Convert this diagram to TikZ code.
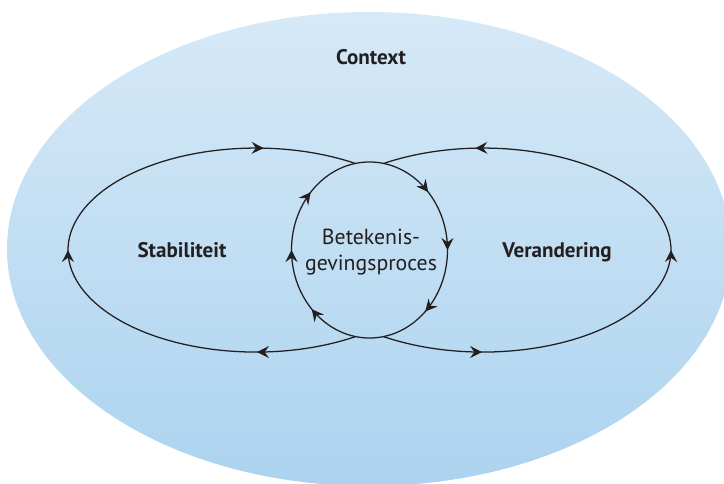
\documentclass[tikz,border=0pt]{standalone}
\usepackage{fontspec}
\setmainfont{PT Sans}
\usetikzlibrary{arrows.meta,decorations.markings,positioning}

\definecolor{ctxtop}{RGB}{214,233,247}
\definecolor{ctxbot}{RGB}{172,211,239}
\definecolor{ink}{RGB}{35,31,32}

\begin{document}
\begin{tikzpicture}[
  x=0.025cm, y=0.025cm,
  >={Stealth[length=8.5pt,width=8.5pt,inset=3pt]},
  loop/.style={draw=ink, line width=0.9pt},
  tip/.style={postaction={decorate, decoration={markings,
      mark=at position #1 with {\arrow[ink]{>}}}}},
  lbl/.style={font=\fontsize{15}{18}\selectfont\bfseries, text=ink, anchor=base},
  mid/.style={font=\fontsize{15.5}{19}\selectfont, text=ink, align=center}
]

% Kader
\useasboundingbox (0,0) rectangle (724,483);
\clip (0,0) rectangle (724,483);

% -- Context --
\shade[top color=ctxtop, bottom color=ctxbot]
  (369,234) ellipse [x radius=362, y radius=237];
\node[lbl] (context) at (371,419) {Context};

% -- Lussen --
\coordinate (stab_c) at (256,233);
\coordinate (ver_c)  at (483,233);
\coordinate (bet_c)  at (369.5,233);

\draw[loop, tip/.list={0.15,0.5,0.86}]
  (355.5,146.4) arc [start angle=301.95, end angle=58.05, x radius=188, y radius=102];
\draw[loop, tip/.list={0.15,0.5,0.86}]
  (383.5,146.4) arc [start angle=-121.95, end angle=121.95, x radius=188, y radius=102];
\draw[loop, tip/.list={0.131,0.25,0.378,0.628,0.75,0.869}]
  (369.5,321) arc [start angle=90, end angle=-270, x radius=78, y radius=88];

% -- Teksten --
\node[lbl] (stab) at (182,226) {Stabiliteit};
\node[lbl] (ver)  at (557,226) {Verandering};
\node[mid] (bet)  at (371,231) {Betekenis-\\gevingsproces};

\end{tikzpicture}
\end{document}
